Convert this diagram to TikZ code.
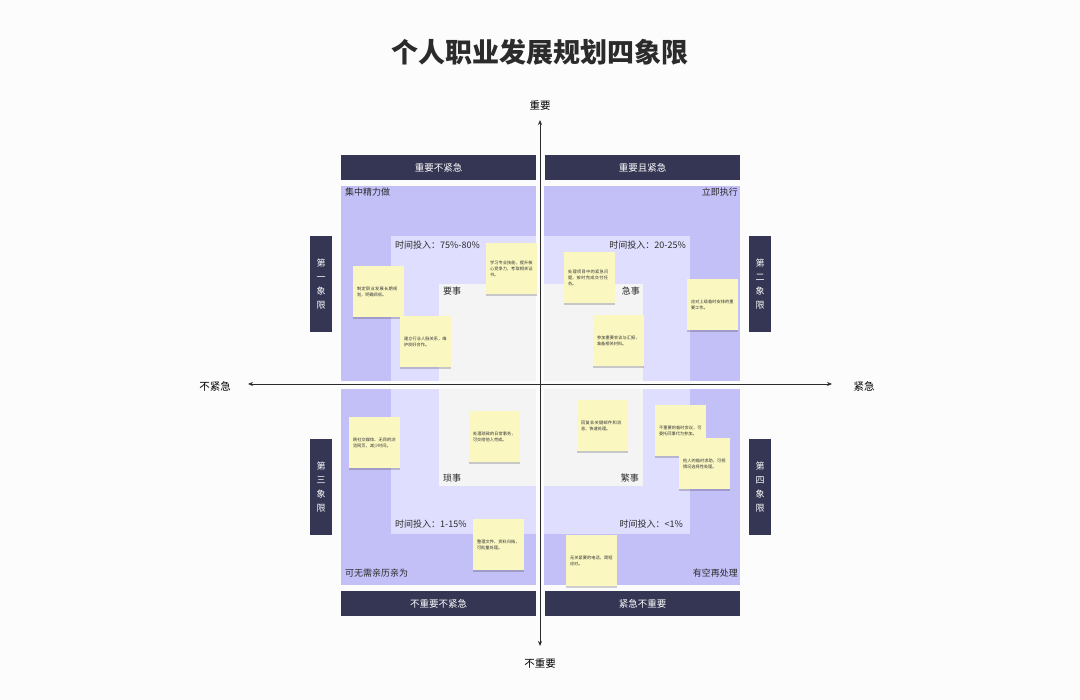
\documentclass[tikz,border=0pt]{standalone}
\usepackage{fontspec}
\setmainfont{Noto Sans CJK SC}
\XeTeXlinebreaklocale "zh"
\XeTeXlinebreakskip = 0pt plus 1pt
\usetikzlibrary{positioning,arrows.meta,shadows}
\definecolor{barblue}{HTML}{353654}
\definecolor{outerpurple}{HTML}{C3BFF7}
\definecolor{midpurple}{HTML}{DFDEFE}
\definecolor{innergray}{HTML}{F4F4F4}
\definecolor{notey}{HTML}{FAF7C0}
\definecolor{inkgray}{HTML}{2B2B2B}

\begin{document}
\begin{tikzpicture}
  [x=1pt,y=-1pt,
   bar/.style={rectangle,fill=barblue,text=white,minimum width=195pt,minimum height=25pt,inner sep=0pt,font=\fontsize{9.5}{11}\selectfont},
   sidebar/.style={rectangle,fill=barblue,text=white,minimum width=22pt,minimum height=96pt,inner sep=0pt,align=center,font=\fontsize{9}{14}\selectfont},
   lbl/.style={inner sep=0pt,text=inkgray,font=\fontsize{9}{11}\selectfont},
   axlbl/.style={inner sep=0pt,text=black,font=\fontsize{10.5}{12}\selectfont},
   axis/.style={draw=inkgray,line width=0.8pt,-{Stealth[length=5pt,width=4pt]}},
   note/.style={rectangle,fill=notey,minimum width=51pt,minimum height=51pt,text width=43pt,inner sep=4pt,align=left,text=black!80,font=\fontsize{4.2}{6}\selectfont,drop shadow={shadow xshift=0pt,shadow yshift=-2pt,fill=black,opacity=.18}}]

  \fill[white!98!gray] (0,0) rectangle (1080,700);
  \useasboundingbox (0,0) rectangle (1080,700);

  % title
  \node[inner sep=0pt,text=inkgray,font=\fontsize{27}{30}\selectfont\bfseries] (title) at (540,52) {个人职业发展规划四象限};

  % quadrant zones
  \foreach \xa/\ya/\xb/\yb in {341/186/536/381,544/186/740/381,341/389/536/585,544/389/740/585}
    \fill[outerpurple] (\xa,\ya) rectangle (\xb,\yb);
  \foreach \xa/\ya/\xb/\yb in {391/236/536/381,544/236/690/381,391/389/536/534,544/389/690/534}
    \fill[midpurple] (\xa,\ya) rectangle (\xb,\yb);
  \foreach \xa/\ya/\xb/\yb in {439/284/536/381,544/284/643/381,439/389/536/486,544/389/643/486}
    \fill[innergray] (\xa,\ya) rectangle (\xb,\yb);

  % bars
  \node[bar] (b1) at (438.5,167.5) {重要不紧急};
  \node[bar] (b2) at (642.5,167.5) {重要且紧急};
  \node[bar] (b3) at (438.5,603.5) {不重要不紧急};
  \node[bar] (b4) at (642.5,603.5) {紧急不重要};
  \node[sidebar] (s1) at (321,284) {第\\一\\象\\限};
  \node[sidebar] (s2) at (760,284) {第\\二\\象\\限};
  \node[sidebar] (s3) at (321,487) {第\\三\\象\\限};
  \node[sidebar] (s4) at (760,487) {第\\四\\象\\限};

  % labels
  \node[lbl,anchor=west] (l1) at (345,192) {集中精力做};
  \node[lbl,anchor=east] (l2) at (738,192) {立即执行};
  \node[lbl,anchor=west] (l3) at (345,573) {可无需亲历亲为};
  \node[lbl,anchor=east] (l4) at (738,573) {有空再处理};
  \node[lbl,anchor=west] (t1) at (395,245) {时间投入：75\%-80\%};
  \node[lbl,anchor=east] (t2) at (686,245) {时间投入：20-25\%};
  \node[lbl,anchor=west] (t3) at (395,524) {时间投入：1-15\%};
  \node[lbl,anchor=east] (t4) at (683,524) {时间投入：<1\%};
  \node[lbl,anchor=west] (k1) at (443,291) {要事};
  \node[lbl,anchor=east] (k2) at (640,291) {急事};
  \node[lbl,anchor=west] (k3) at (443,478) {琐事};
  \node[lbl,anchor=east] (k4) at (639,478) {繁事};

  % axes
  \node[axlbl] (imp) at (540,106) {重要};
  \node[axlbl] (nimp) at (540,664) {不重要};
  \node[axlbl] (nurg) at (215,386) {不紧急};
  \node[axlbl] (urg) at (864,386) {紧急};
  \coordinate (c) at (540,384);
  \draw[axis,shorten >=14pt] (c) -- (c |- imp);
  \draw[axis,shorten >=18pt] (c) -- (c |- nimp);
  \draw[axis,shorten >=33pt] (c) -- (c -| nurg);
  \draw[axis,shorten >=32pt] (c) -- (c -| urg);

  % sticky notes
  \node[note] (n1) at (378.5,291.5) {制定职业发展长期规划，明确目标。};
  \node[note] (n2) at (511.5,268.5) {学习专业技能，提升核心竞争力，考取相关证书。};
  \node[note] (n3) at (425.5,341.5) {建立行业人脉关系，维护良好合作。};
  \node[note] (n4) at (589.5,277.5) {处理项目中的紧急问题，按时完成交付任务。};
  \node[note] (n5) at (712.5,304.5) {应对上级临时安排的重要工作。};
  \node[note] (n6) at (618.5,340.5) {参加重要会议与汇报，准备相关材料。};
  \node[note] (n7) at (374.5,442.5) {刷社交媒体、无目的浏览网页，减少时间。};
  \node[note] (n8) at (494.5,436.5) {处理琐碎的日常事务，可交给他人完成。};
  \node[note] (n9) at (602.5,425.5) {回复非关键邮件和消息，快速处理。};
  \node[note] (n10) at (680.5,430.5) {不重要的临时会议，可委托同事代为参加。};
  \node[note] (n11) at (704.5,463.5) {他人的临时求助，可视情况选择性处理。};
  \node[note] (n12) at (498.5,544.5) {整理文件、资料归档，可批量处理。};
  \node[note] (n13) at (591.5,560.5) {无关紧要的电话，简短应对。};

\end{tikzpicture}
\end{document}
